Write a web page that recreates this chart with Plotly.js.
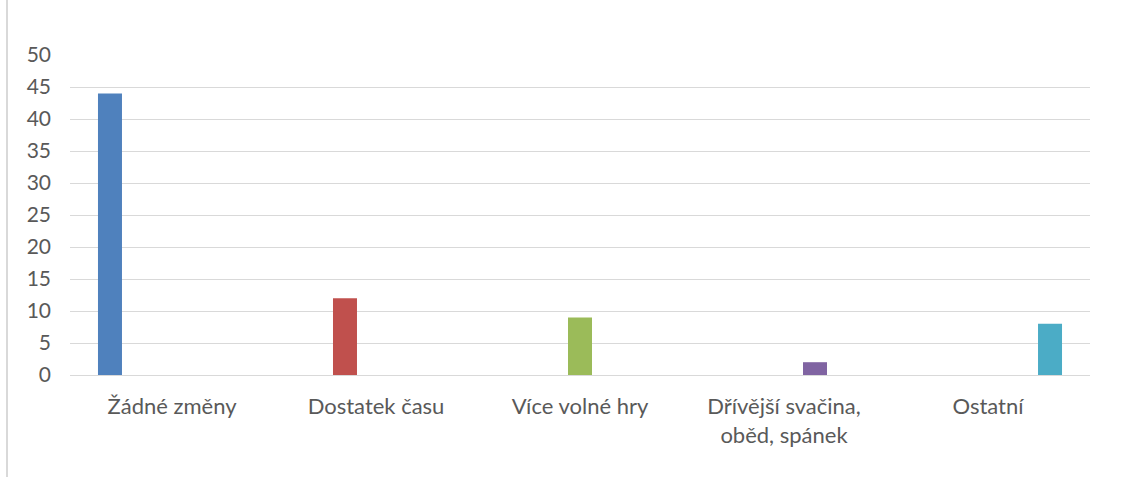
<!DOCTYPE html>
<html>
<head>
<meta charset="utf-8">
<script src="https://cdn.plot.ly/plotly-3.0.1.min.js"></script>
<style>
html,body{margin:0;padding:0;background:#fff;}
#chart{width:1147px;height:477px;position:absolute;left:0;top:0;}
#edge{position:absolute;left:6px;top:0;width:2px;height:477px;background:#d9d9d9;}
</style>
</head>
<body>
<div id="chart"></div>
<div id="edge"></div>
<script>
const categories = ["Žádné změny", "Dostatek času", "Více volné hry", "Dřívější svačina,<br>oběd, spánek", "Ostatní"];
const zadneZmeny = [44, null, null, null, null];
const dostatekCasu = [null, 12, null, null, null];
const viceVolneHry = [null, null, 9, null, null];
const drivejsiSvacina = [null, null, null, 2, null];
const ostatni = [null, null, null, null, 8];
const seriesValues = [zadneZmeny, dostatekCasu, viceVolneHry, drivejsiSvacina, ostatni];
const seriesColors = ["#4f81bd", "#c0504d", "#9bbb59", "#8064a2", "#4bacc6"];
const yTicks = [0, 5, 10, 15, 20, 25, 30, 35, 40, 45, 50];

const traces = seriesValues.map((vals, i) => ({
  type: "bar",
  x: categories,
  y: vals,
  marker: {color: seriesColors[i]},
  hoverinfo: "x+y",
  showlegend: false
}));

const yFont = {family: "Lato, Open Sans, sans-serif", size: 21, color: "#595959"};
const xFont = {family: "Lato, Open Sans, sans-serif", size: 22, color: "#595959"};

const layout = {
  width: 1147, height: 477,
  margin: {l: 70, r: 57, t: 55, b: 102},
  paper_bgcolor: "#ffffff",
  plot_bgcolor: "#ffffff",
  barmode: "group",
  bargap: 0.24,
  bargroupgap: 0.226,
  font: yFont,
  xaxis: {
    type: "category",
    showgrid: false,
    showline: false,
    zeroline: false,
    ticks: "",
    tickfont: xFont,
    ticklabelstandoff: 16,
    fixedrange: true
  },
  yaxis: {
    range: [0, 50],
    tickvals: yTicks,
    ticktext: yTicks.map(String),
    showgrid: true,
    gridcolor: "#d9d9d9",
    gridwidth: 1,
    zeroline: true,
    zerolinecolor: "#d9d9d9",
    zerolinewidth: 1,
    showline: false,
    ticks: "",
    tickfont: yFont,
    ticklabelstandoff: 18,
    fixedrange: true
  }
};

Plotly.newPlot("chart", traces, layout, {displayModeBar: false, staticPlot: true});
</script>
</body>
</html>
